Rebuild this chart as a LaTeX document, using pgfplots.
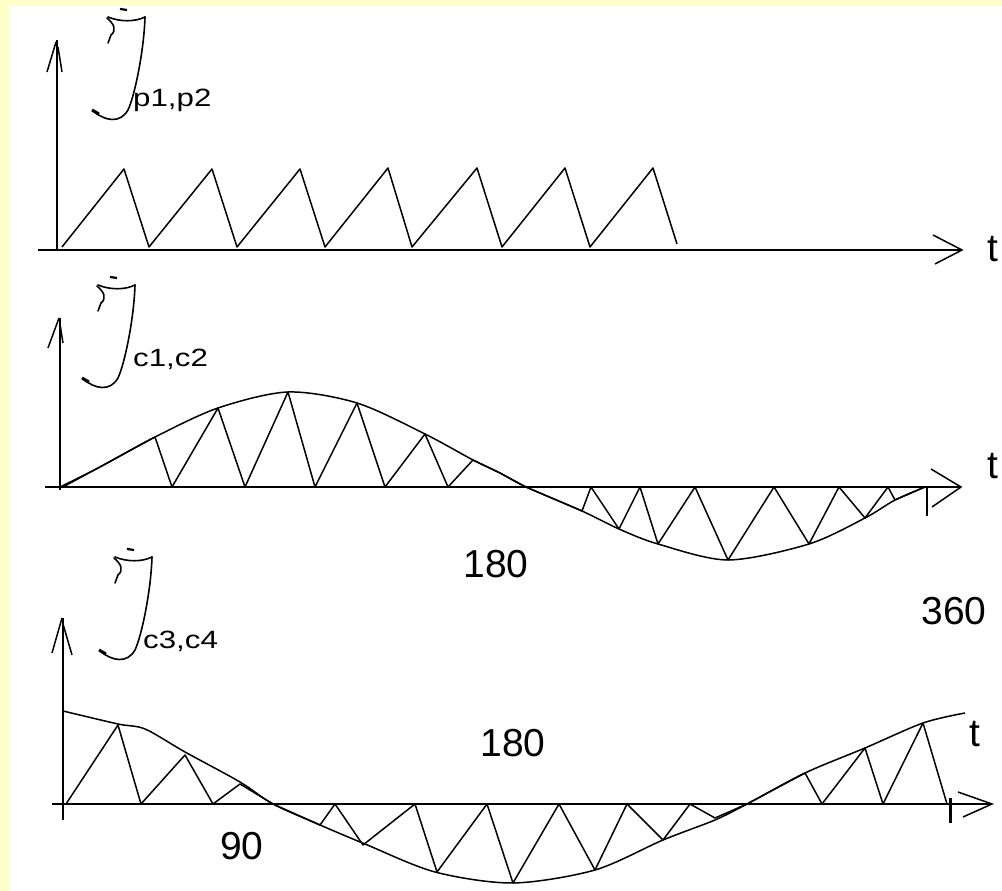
\documentclass[border=0pt]{standalone}
\usepackage{pgfplots}
\pgfplotsset{compat=1.18}
\usepackage{graphicx}
\usepackage{fontspec}
\setmainfont{Liberation Sans}
\definecolor{paper}{HTML}{FFFFCC}

\newcommand{\bigfont}{\fontsize{39}{39}\selectfont}
\newcommand{\sublabel}[1]{\scalebox{1.25}[1]{\fontsize{25}{25}\selectfont #1}}

\tikzset{
  glyph/.style={black, line width=1.6pt, line cap=round, line join=round},
  axisline/.style={black, line width=2pt},
  arrowarm/.style={black, line width=1.5pt},
}
\pgfplotsset{
  panel/.style={hide axis, scale only axis, clip=false, x=1pt, y=1pt, anchor=south west},
  wave/.style={black, line width=1.5pt, no markers, line join=round},
  envelope/.style={black, line width=1.5pt, no markers, smooth},
}

% hand-drawn current symbol, in picture units (y downwards)
\newcommand{\currentsym}[2]{%
  \begin{scope}[shift={(#1,#2)}]
    \draw[line width=2.2pt] (120,9) -- (127,10);
    \draw[glyph] (108,17) .. controls (120,22) and (135,22) .. (145,17);
    \draw[glyph] (107,18) .. controls (114,24) and (117,30) .. (111,35) -- (108,43);
    \draw[glyph] (145,17) .. controls (144,50) and (135,95) .. (128,110)
                 .. controls (120,124) and (105,121) .. (93,111);
    \draw[line width=3pt] (92,110) -- (99,114);
  \end{scope}}

\begin{document}
\begin{tikzpicture}
\path[use as bounding box] (0,0) rectangle (1002pt,891pt);
\clip (0,0) rectangle (1002pt,891pt);
\fill[paper] (0,0) rectangle (1002pt,891pt);
\fill[white] (10pt,0) rectangle (1002pt,885pt);

% ---------- p1, p2 : carrier ----------
\begin{axis}[panel, xmin=-20, xmax=940, ymin=-20, ymax=215, at={(37pt,621pt)}]
  \addplot[wave] coordinates {
    (5,3) (67,81) (92,3) (155,81) (180,3) (243,81) (268,3) (331,82)
    (355,3) (420,82) (445,3) (508,82) (533,3) (596,82) (620,6)};
  \draw[axisline] (axis cs:-19,0) -- (axis cs:905,0);
  \draw[arrowarm] (axis cs:876,15) -- (axis cs:905,0) -- (axis cs:878,-14);
  \draw[axisline] (axis cs:0,0) -- (axis cs:0,210);
  \draw[arrowarm] (axis cs:-10,178) -- (axis cs:-1,208);
  \draw[arrowarm] (axis cs:5,178) -- (axis cs:1,203);
  \node[anchor=base] at (axis cs:936,-12) {\bigfont t};
  \node[anchor=base west, inner sep=0pt] at (axis cs:76,143) {\sublabel{p1,p2}};
\end{axis}

% ---------- c1, c2 : sine envelope ----------
\begin{axis}[panel, xmin=-20, xmax=945, ymin=-95, ymax=175, at={(40pt,309pt)}]
  \addplot[envelope] coordinates {
    (0,0) (40,20) (95,50) (158,79) (228,95) (297,84) (365,53) (413,27)
    (440,14) (466,0) (522,-24) (559,-42) (598,-57) (668,-73) (749,-57)
    (805,-31) (835,-13) (865,0)};
  \addplot[wave] coordinates {
    (3,0) (95,50) (112,0) (158,79) (185,0) (228,95) (255,0) (297,84)
    (325,0) (365,53) (388,0) (413,27) (440,14) (466,0) (522,-24) (531,0)
    (559,-42) (580,0) (598,-57) (635,0) (668,-73) (714,0) (749,-57)
    (779,0) (805,-31) (828,0) (835,-13) (865,0)};
  \draw[axisline] (axis cs:-15,0) -- (axis cs:901,0);
  \draw[arrowarm] (axis cs:871,18) -- (axis cs:901,0) -- (axis cs:872,-20);
  \draw[black, line width=2.5pt] (axis cs:867,0) -- (axis cs:867,-29);
  \draw[axisline] (axis cs:0,-3) -- (axis cs:0,169);
  \draw[arrowarm] (axis cs:-12,139) -- (axis cs:-1,169);
  \draw[arrowarm] (axis cs:3,144) -- (axis cs:0,163);
  \node[anchor=base] at (axis cs:933,8) {\bigfont t};
  \node[anchor=base west, inner sep=0pt] at (axis cs:73,120) {\sublabel{c1,c2}};
  \node[anchor=base] at (axis cs:436,-91) {\bigfont 180};
\end{axis}

% ---------- c3, c4 : cosine envelope ----------
\begin{axis}[panel, xmin=-20, xmax=945, ymin=-90, ymax=190, at={(43pt,-3pt)}]
  \addplot[envelope] coordinates {
    (0,93) (55,80) (82,75) (122,52) (177,22) (210,0) (257,-21) (302,-40)
    (372,-68) (450,-79) (532,-66) (600,-36) (652,-16) (684,0) (742,31)
    (802,56) (860,81) (902,91)};
  \addplot[wave] coordinates {
    (3,0) (55,79) (78,0) (122,49) (150,0) (177,20) (210,0) (257,-21)
    (272,0) (300,-41) (352,0) (374,-68) (424,0) (450,-79) (496,0)
    (532,-66) (564,0) (600,-36) (627,0) (652,-14) (684,0) (742,31)
    (759,0) (802,56) (820,0) (860,81) (884,0)};
  \draw[axisline] (axis cs:-11,0) -- (axis cs:929,0);
  \draw[arrowarm] (axis cs:895,12) -- (axis cs:929,0) -- (axis cs:900,-13);
  \draw[black, line width=3pt] (axis cs:887,6) -- (axis cs:887,-19);
  \draw[axisline] (axis cs:0,-16) -- (axis cs:0,186);
  \draw[arrowarm] (axis cs:-11,151) -- (axis cs:-1,186);
  \draw[arrowarm] (axis cs:9,149) -- (axis cs:0,180);
  \node[anchor=base] at (axis cs:912,57) {\bigfont t};
  \node[anchor=base west, inner sep=0pt] at (axis cs:80,155) {\sublabel{c3,c4}};
  \node[anchor=base] at (axis cs:891,179) {\bigfont 360};
  \node[anchor=base] at (axis cs:450,47) {\bigfont 180};
  \node[anchor=base] at (axis cs:179,-56) {\bigfont 90};
\end{axis}

% current symbols beside the vertical axes
\begin{scope}[shift={(0pt,891pt)}, x=1pt, y=-1pt]
  \currentsym{0}{0}
  \currentsym{-10}{268}
  \currentsym{7}{540}
\end{scope}
\end{tikzpicture}
\end{document}
